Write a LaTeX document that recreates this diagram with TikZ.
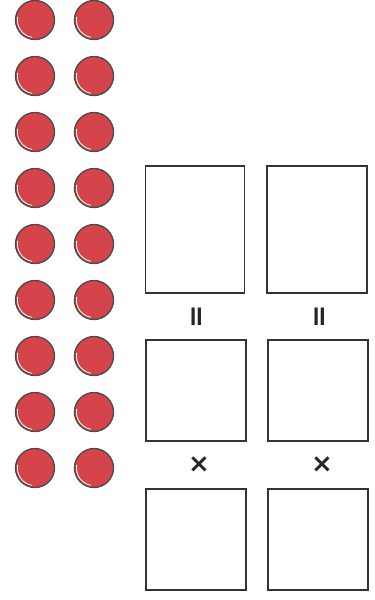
\documentclass[tikz,border=0pt]{standalone}
\usepackage{fontspec}
\newfontfamily\symfont{DejaVu Sans}
\begin{document}
\begin{tikzpicture}[x=1pt,y=-1pt,
  counter/.style={fill=cred,draw=cdark,line width=1.3pt},
  answerbox/.style={draw=black!80,line width=1.2pt,inner sep=0pt},
  sym/.style={inner sep=0pt,text=black!85}]
\definecolor{cred}{HTML}{D5444A}
\definecolor{cdark}{HTML}{4A4A4A}
\useasboundingbox (0,0) rectangle (375,600);
\fill[white] (0,0) rectangle (375,600);
\foreach \i in {0,...,8}{
  \foreach \x/\n in {35/a,94/b}{
    \pgfmathsetmacro{\yy}{20+56*\i}
    \filldraw[counter] (\x,\yy) circle (19.5);
    \draw[white,line width=0.8pt] (\x,\yy) ++(100:17.6) arc (100:190:17.6);
    \coordinate (c\n\i) at (\x,\yy);
  }
}
% boxes
\node[answerbox,minimum width=99pt,minimum height=127pt] (t1) at (195,229.5) {};
\node[answerbox,minimum width=100pt,minimum height=127pt] (t2) at (317,229.5) {};
\node[answerbox,minimum width=100pt,minimum height=101pt] (m1) at (196,390.5) {};
\node[answerbox,minimum width=100pt,minimum height=101pt] (m2) at (318,390.5) {};
\node[answerbox,minimum width=100pt,minimum height=101pt] (b1) at (196,539.5) {};
\node[answerbox,minimum width=100pt,minimum height=101pt] (b2) at (318,539.5) {};
% symbols
\node[sym,rotate=90,font=\symfont\fontsize{28}{28}\selectfont\bfseries] (e1) at (199,317) {=};
\node[sym,rotate=90,font=\symfont\fontsize{28}{28}\selectfont\bfseries] (e2) at (322,317) {=};
\node[sym,font=\symfont\fontsize{26}{26}\selectfont\bfseries] (x1) at (199,465) {×};
\node[sym,font=\symfont\fontsize{26}{26}\selectfont\bfseries] (x2) at (322,465) {×};
\end{tikzpicture}
\end{document}
